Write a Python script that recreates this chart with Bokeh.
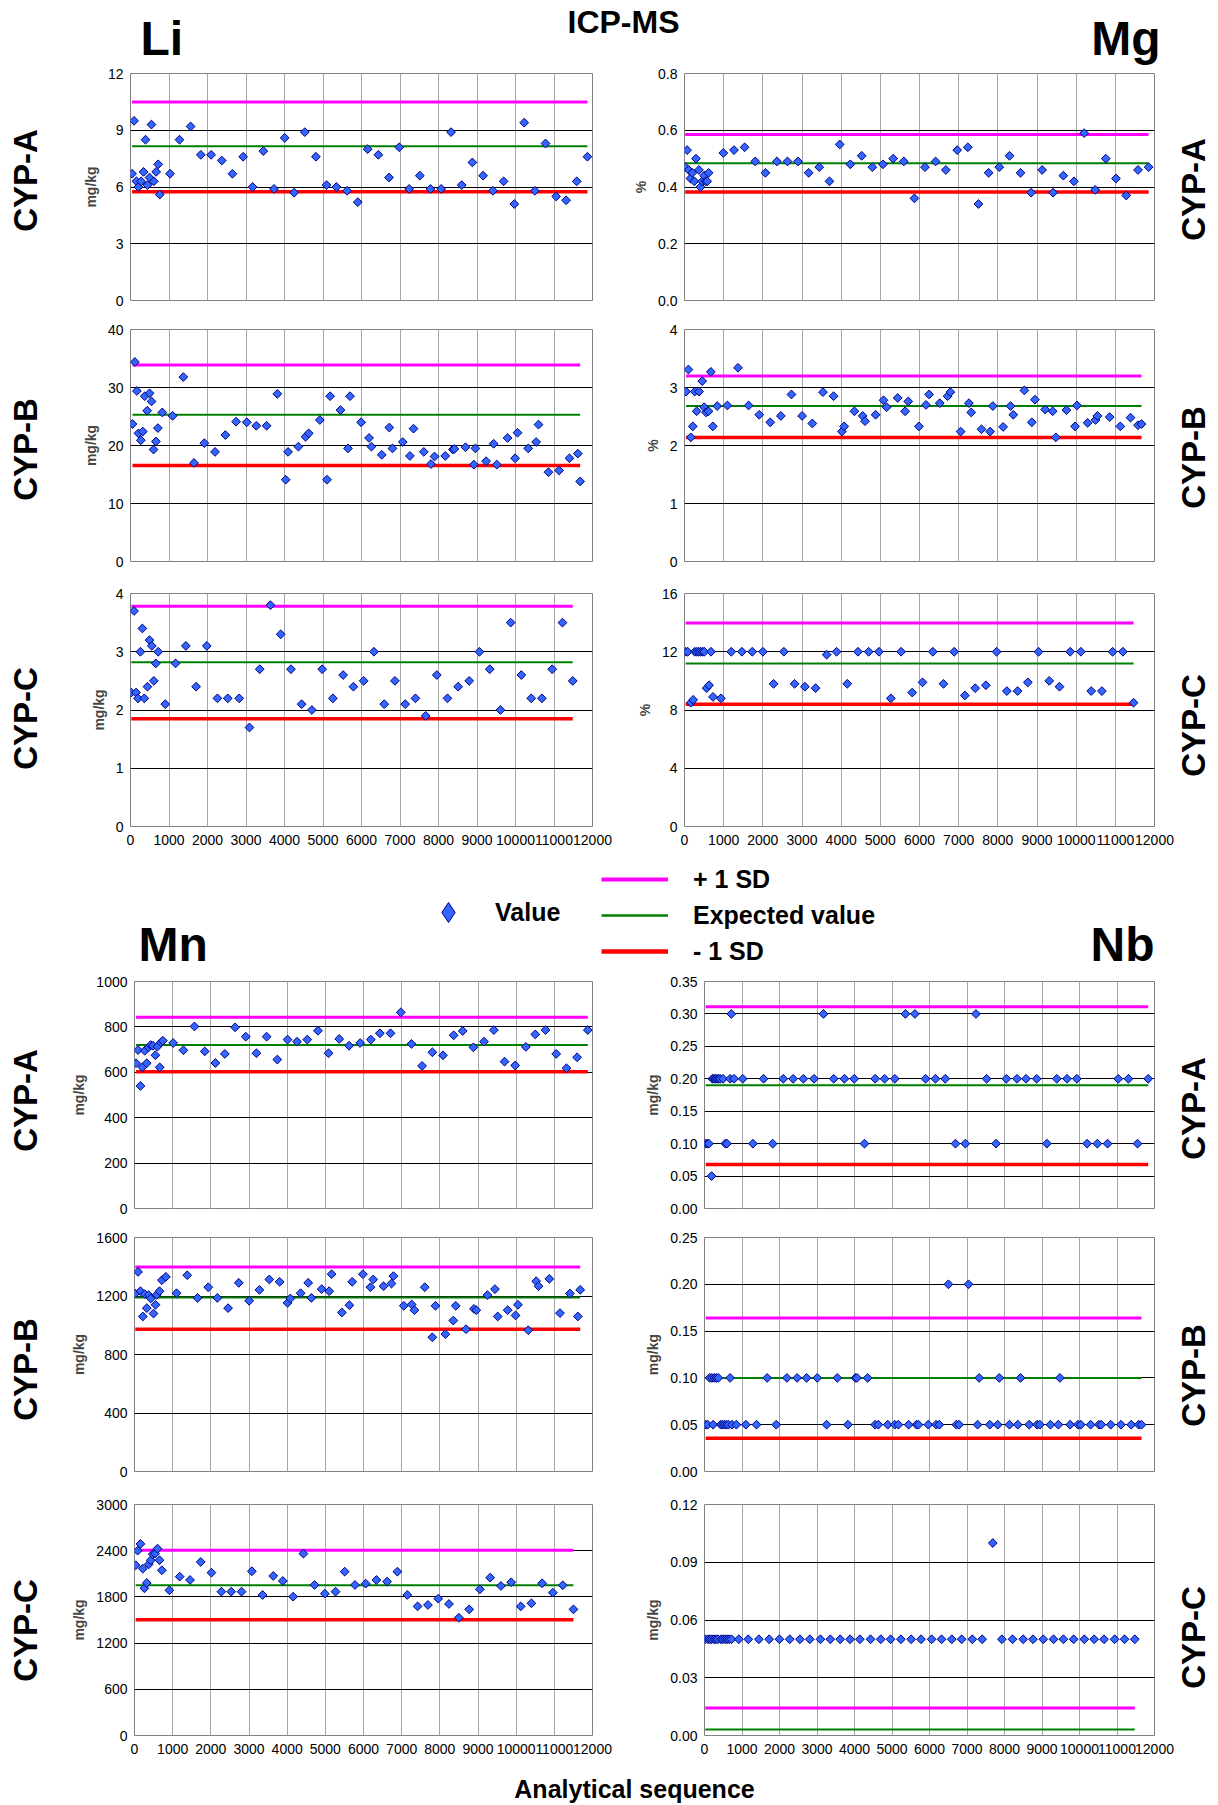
import numpy as np
from bokeh.plotting import figure
from bokeh.models import (FixedTicker, NumeralTickFormatter, Label, Legend,
                          LegendItem, Range1d)
from bokeh.layouts import column, row
from bokeh.embed import file_html
from bokeh.resources import INLINE

FONT = "Liberation Sans"
BLUE = "#3366FF"
NAVY = "#000080"
SD_LABELS = ["+ 1 SD", "Expected value", "- 1 SD"]
SD_COLORS = ["#FF00FF", "#008000", "#FF0000"]
SD_WIDTHS = [3, 2, 3.5]
ROW_NAMES = ["CYP-A", "CYP-B", "CYP-C"]
X_TICKS = list(range(0, 12001, 1000))

# ---------------- Li ----------------
LI_A_X = [41, 92, 154, 205, 277, 339, 390, 441, 493, 544, 606, 667, 719, 760, 1027, 1273, 1561, 1827, 2094,
          2371, 2648, 2926, 3172, 3450, 3727, 4004, 4251, 4528, 4815, 5092, 5349, 5626, 5903, 6160, 6437,
          6714, 6981, 7238, 7515, 7792, 8069, 8326, 8603, 8880, 9158, 9414, 9692, 9969, 10226, 10503,
          10780, 11057, 11314, 11591, 11868]
LI_A_Y = [6.7, 9.5, 6.3, 6.0, 6.3, 6.8, 8.5, 6.1, 6.5, 9.3, 6.3, 6.8, 7.2, 5.6, 6.7, 8.5, 9.2, 7.7, 7.7, 7.4,
          6.7, 7.6, 6.0, 7.9, 5.9, 8.6, 5.7, 8.9, 7.6, 6.1, 6.0, 5.8, 5.2, 8.0, 7.7, 6.5, 8.1, 5.9, 6.6,
          5.9, 5.9, 8.9, 6.1, 7.3, 6.6, 5.8, 6.3, 5.1, 9.4, 5.8, 8.3, 5.5, 5.3, 6.3, 7.6]
LI_A_SD = [10.5, 8.15, 5.75]
LI_A_TICKS = [0, 3, 6, 9, 12]

LI_B_X = [52, 113, 165, 206, 268, 320, 371, 433, 495, 546, 598, 660, 711, 825, 1093, 1371, 1649, 1918, 2196,
          2464, 2742, 3020, 3268, 3536, 3814, 4031, 4093, 4361, 4546, 4629, 4918, 5103, 5186, 5454, 5649,
          5701, 5990, 6196, 6258, 6526, 6722, 6804, 7072, 7258, 7351, 7619, 7804, 7897, 8175, 8371, 8412,
          8701, 8918, 8959, 9237, 9433, 9515, 9794, 9990, 10052, 10330, 10536, 10598, 10856, 11134, 11402,
          11619, 11680]
LI_B_Y = [23.7, 34.4, 29.4, 22.1, 20.9, 22.4, 28.5, 26.0, 29.0, 27.6, 19.3, 20.7, 23.0, 25.7, 25.1, 31.8,
          17.0, 20.4, 18.9, 21.8, 24.1, 24.0, 23.4, 23.4, 28.9, 14.1, 18.9, 19.8, 21.5, 22.1, 24.4, 14.1,
          28.5, 26.1, 19.5, 28.5, 24.0, 21.3, 19.8, 18.4, 23.1, 19.5, 20.6, 18.2, 22.9, 18.9, 16.8, 18.1,
          18.2, 19.3, 19.4, 19.7, 16.7, 19.5, 17.3, 20.3, 16.7, 21.3, 17.8, 22.2, 19.5, 20.6, 23.6, 15.4,
          15.7, 17.8, 18.6, 13.8]
LI_B_SD = [33.9, 25.3, 16.55]
LI_B_TICKS = [0, 10, 20, 30, 40]

LI_C_X = [21, 92, 144, 195, 257, 308, 359, 441, 493, 554, 606, 657, 719, 903, 1170, 1437, 1704, 1981, 2258,
          2525, 2823, 3090, 3357, 3634, 3901, 4168, 4445, 4712, 4979, 5256, 5523, 5790, 6057, 6324, 6591,
          6868, 7135, 7401, 7668, 7956, 8233, 8510, 8797, 9064, 9331, 9608, 9875, 10152, 10409, 10686,
          10953, 11220, 11487]
LI_C_Y = [2.3, 3.7, 2.3, 2.2, 3.0, 3.4, 2.2, 2.4, 3.2, 3.1, 2.5, 2.8, 3.0, 2.1, 2.8, 3.1, 2.4, 3.1, 2.2, 2.2,
          2.2, 1.7, 2.7, 3.8, 3.3, 2.7, 2.1, 2.0, 2.7, 2.2, 2.6, 2.4, 2.5, 3.0, 2.1, 2.5, 2.1, 2.2, 1.9,
          2.6, 2.2, 2.4, 2.5, 3.0, 2.7, 2.0, 3.5, 2.6, 2.2, 2.2, 2.7, 3.5, 2.5]
LI_C_SD = [3.78, 2.82, 1.85]
LI_C_TICKS = [0, 1, 2, 3, 4]

# ---------------- Mg ----------------
MG_A_X = [17, 67, 109, 151, 201, 251, 293, 368, 408, 452, 502, 540, 581, 615, 991, 1264, 1535, 1806, 2067,
          2358, 2629, 2899, 3170, 3441, 3702, 3963, 4234, 4525, 4796, 5067, 5328, 5599, 5870, 6140, 6411,
          6672, 6963, 7234, 7505, 7766, 8037, 8298, 8579, 8850, 9131, 9411, 9672, 9943, 10204, 10485,
          10756, 11017, 11278, 11579, 11850]
MG_A_Y = [0.47, 0.53, 0.46, 0.43, 0.45, 0.42, 0.50, 0.46, 0.40, 0.42, 0.44, 0.42, 0.42, 0.45, 0.52, 0.53,
          0.54, 0.49, 0.45, 0.49, 0.49, 0.49, 0.45, 0.47, 0.42, 0.55, 0.48, 0.51, 0.47, 0.48, 0.50, 0.49,
          0.36, 0.47, 0.49, 0.46, 0.53, 0.54, 0.34, 0.45, 0.47, 0.51, 0.45, 0.38, 0.46, 0.38, 0.44, 0.42,
          0.59, 0.39, 0.50, 0.43, 0.37, 0.46, 0.47]
MG_A_SD = [0.585, 0.484, 0.382]
MG_A_TICKS = [0, 0.2, 0.4, 0.6, 0.8]

MG_B_X = [40, 100, 161, 211, 261, 311, 372, 452, 502, 552, 613, 673, 723, 834, 1095, 1366, 1637, 1908, 2189,
          2460, 2731, 3003, 3264, 3535, 3806, 4017, 4077, 4338, 4549, 4609, 4880, 5081, 5162, 5443, 5633,
          5713, 5985, 6166, 6246, 6517, 6718, 6788, 7050, 7261, 7321, 7582, 7803, 7873, 8135, 8325, 8395,
          8677, 8867, 8948, 9209, 9400, 9480, 9751, 9972, 10022, 10293, 10494, 10544, 10856, 11127, 11388,
          11579, 11669]
MG_B_Y = [2.93, 3.31, 2.14, 2.33, 2.93, 2.59, 2.93, 3.11, 2.66, 2.57, 2.59, 3.27, 2.33, 2.68, 2.69, 3.34,
          2.69, 2.53, 2.40, 2.51, 2.88, 2.51, 2.38, 2.92, 2.85, 2.24, 2.33, 2.59, 2.51, 2.42, 2.53, 2.78,
          2.66, 2.82, 2.59, 2.76, 2.33, 2.70, 2.88, 2.73, 2.85, 2.92, 2.24, 2.73, 2.57, 2.28, 2.24, 2.68,
          2.32, 2.68, 2.53, 2.95, 2.40, 2.79, 2.62, 2.59, 2.14, 2.61, 2.33, 2.69, 2.39, 2.44, 2.51, 2.49,
          2.33, 2.48, 2.35, 2.37]
MG_B_SD = [3.20, 2.68, 2.14]
MG_B_TICKS = [0, 1, 2, 3, 4]

MG_C_X = [30, 81, 162, 222, 263, 313, 364, 415, 465, 506, 566, 627, 677, 728, 930, 1193, 1466, 1729, 2002,
          2275, 2538, 2811, 3074, 3347, 3630, 3883, 4156, 4429, 4702, 4965, 5268, 5531, 5814, 6077, 6340,
          6613, 6886, 7159, 7422, 7695, 7968, 8231, 8504, 8766, 9039, 9312, 9575, 9848, 10121, 10384,
          10657, 10930, 11193, 11466]
MG_C_Y = [12, 12, 8.5, 8.7, 12, 12, 12, 12, 12, 12, 9.5, 9.7, 12, 8.9, 8.8, 12, 12, 12, 12, 9.8, 12, 9.8,
          9.6, 9.5, 11.8, 12, 9.8, 12, 12, 12, 8.8, 12, 9.2, 9.9, 12, 9.8, 12, 9.0, 9.5, 9.7, 12, 9.3, 9.3,
          9.9, 12, 10.0, 9.6, 12, 12, 9.3, 9.3, 12, 12, 8.5]
MG_C_SD = [13.97, 11.2, 8.39]
MG_C_TICKS = [0, 4, 8, 12, 16]

# ---------------- Mn ----------------
MN_A_X = [41, 93, 155, 207, 269, 320, 372, 424, 486, 548, 599, 661, 693, 744, 1013, 1282, 1571, 1840, 2119,
          2367, 2636, 2915, 3194, 3463, 3742, 4010, 4258, 4527, 4806, 5085, 5364, 5623, 5912, 6191, 6429,
          6708, 6977, 7256, 7535, 7804, 8083, 8362, 8600, 8879, 9158, 9416, 9695, 9974, 10253, 10501,
          10770, 11049, 11318, 11597, 11876]
MN_A_Y = [640, 698, 540, 622, 695, 640, 710, 720, 717, 675, 713, 622, 732, 739, 729, 697, 802, 692, 641, 681,
          798, 757, 684, 757, 656, 744, 735, 744, 783, 684, 747, 717, 729, 744, 772, 772, 864, 725, 628,
          688, 675, 763, 782, 710, 735, 786, 647, 630, 712, 767, 786, 681, 618, 666, 786]
MN_A_SD = [842, 720, 602]
MN_A_TICKS = [0, 200, 400, 600, 800, 1000]

MN_B_X = [21, 94, 156, 218, 270, 322, 374, 426, 499, 551, 582, 655, 717, 821, 1101, 1382, 1652, 1932, 2171,
          2452, 2732, 3003, 3273, 3532, 3803, 4010, 4083, 4353, 4551, 4634, 4904, 5101, 5164, 5434, 5631,
          5704, 5984, 6182, 6255, 6525, 6733, 6784, 7055, 7262, 7335, 7605, 7803, 7886, 8145, 8353, 8416,
          8686, 8894, 8956, 9247, 9444, 9517, 9777, 9984, 10047, 10317, 10525, 10587, 10868, 11148, 11408,
          11616, 11678]
MN_B_Y = [1217, 1365, 1233, 1060, 1213, 1117, 1206, 1183, 1080, 1140, 1208, 1233, 1308, 1331, 1219, 1342,
          1187, 1260, 1187, 1117, 1290, 1167, 1242, 1313, 1297, 1153, 1183, 1219, 1290, 1187, 1247, 1233,
          1349, 1087, 1137, 1297, 1349, 1260, 1313, 1267, 1285, 1336, 1133, 1142, 1103, 1260, 918, 1133,
          939, 1032, 1133, 973, 1112, 1103, 1206, 1247, 1060, 1103, 1067, 1140, 966, 1301, 1267, 1317,
          1083, 1217, 1060, 1242]
MN_B_SD = [1399, 1190, 973]
MN_B_TICKS = [0, 400, 800, 1200, 1600]

MN_C_X = [31, 83, 156, 218, 260, 322, 374, 426, 478, 540, 603, 655, 717, 914, 1184, 1455, 1735, 2016, 2276,
          2535, 2805, 3075, 3356, 3636, 3886, 4156, 4426, 4717, 4987, 5268, 5507, 5777, 6057, 6338, 6618,
          6888, 7148, 7418, 7688, 7958, 8239, 8499, 8769, 9049, 9319, 9600, 9870, 10119, 10400, 10681,
          10961, 11221, 11501]
MN_C_Y = [2211, 2401, 2488, 2167, 1912, 1981, 2224, 2276, 2354, 2362, 2427, 2276, 2146, 1886, 2063, 2020,
          2254, 2115, 1868, 1868, 1868, 2133, 1825, 2072, 2007, 1803, 2362, 1955, 1842, 1868, 2128, 1955,
          1972, 2020, 1998, 2128, 1825, 1677, 1695, 1777, 1708, 1530, 1638, 1899, 2050, 1942, 1990, 1677,
          1717, 1977, 1855, 1951, 1638]
MN_C_SD = [2406, 1951, 1504]
MN_C_TICKS = [0, 600, 1200, 1800, 2400, 3000]

# ---------------- Nb ----------------
NB_A_X = [32, 74, 116, 189, 210, 252, 294, 336, 378, 420, 494, 557, 599, 683, 714, 788, 1019, 1292, 1576,
          1818, 2101, 2364, 2637, 2921, 3173, 3446, 3730, 3993, 4266, 4550, 4802, 5075, 5358, 5611, 5895,
          6158, 6420, 6693, 6956, 7239, 7523, 7775, 8049, 8333, 8574, 8858, 9131, 9394, 9667, 9930, 10203,
          10476, 10749, 11033, 11306, 11547, 11832]
NB_A_Y = [0.1, 0.1, 0.1, 0.05, 0.2, 0.2, 0.2, 0.2, 0.2, 0.2, 0.2, 0.1, 0.1, 0.2, 0.3, 0.2, 0.2, 0.1, 0.2,
          0.1, 0.2, 0.2, 0.2, 0.2, 0.3, 0.2, 0.2, 0.2, 0.1, 0.2, 0.2, 0.2, 0.3, 0.3, 0.2, 0.2, 0.2, 0.1,
          0.1, 0.3, 0.2, 0.1, 0.2, 0.2, 0.2, 0.2, 0.1, 0.2, 0.2, 0.2, 0.1, 0.1, 0.1, 0.2, 0.2, 0.1, 0.2]
NB_A_SD = [0.311, 0.19, 0.068]
NB_A_TICKS = [0, 0.05, 0.10, 0.15, 0.20, 0.25, 0.30, 0.35]

NB_B_X = [32, 84, 137, 200, 231, 263, 315, 368, 431, 483, 536, 588, 641, 683, 735, 851, 1103, 1387, 1671,
          1912, 2197, 2470, 2722, 3006, 3257, 3541, 3825, 4025, 4067, 4351, 4550, 4634, 4886, 5075, 5170,
          5443, 5653, 5706, 5968, 6178, 6262, 6504, 6715, 6788, 7040, 7282, 7324, 7608, 7818, 7860, 8134,
          8354, 8427, 8659, 8869, 8942, 9226, 9436, 9478, 9751, 9961, 10035, 10297, 10518, 10581, 10833,
          11106, 11379, 11579, 11653]
NB_B_Y = [0.05, 0.05, 0.1, 0.1, 0.05, 0.1, 0.1, 0.1, 0.05, 0.05, 0.05, 0.05, 0.05, 0.1, 0.05, 0.05, 0.05,
          0.05, 0.1, 0.05, 0.1, 0.1, 0.1, 0.1, 0.05, 0.1, 0.05, 0.1, 0.1, 0.1, 0.05, 0.05, 0.05, 0.05,
          0.05, 0.05, 0.05, 0.05, 0.05, 0.05, 0.05, 0.2, 0.05, 0.05, 0.2, 0.05, 0.1, 0.05, 0.05, 0.1, 0.05,
          0.05, 0.1, 0.05, 0.05, 0.05, 0.05, 0.05, 0.1, 0.05, 0.05, 0.05, 0.05, 0.05, 0.05, 0.05, 0.05,
          0.05, 0.05, 0.05]
NB_B_SD = [0.164, 0.1, 0.0354]
NB_B_TICKS = [0, 0.05, 0.10, 0.15, 0.20, 0.25]

NB_C_X = [21, 92, 144, 195, 257, 308, 359, 441, 493, 554, 606, 657, 719, 915, 1167, 1451, 1725, 1998, 2272,
          2545, 2808, 3092, 3355, 3618, 3881, 4144, 4428, 4701, 4964, 5237, 5511, 5774, 6058, 6321, 6594,
          6857, 7141, 7404, 7688, 7930, 8214, 8498, 8761, 9034, 9308, 9571, 9844, 10128, 10391, 10654,
          10938, 11201, 11474]
NB_C_Y = [0.05, 0.05, 0.05, 0.05, 0.05, 0.05, 0.05, 0.05, 0.05, 0.05, 0.05, 0.05, 0.05, 0.05, 0.05, 0.05,
          0.05, 0.05, 0.05, 0.05, 0.05, 0.05, 0.05, 0.05, 0.05, 0.05, 0.05, 0.05, 0.05, 0.05, 0.05, 0.05,
          0.05, 0.05, 0.05, 0.05, 0.05, 0.05, 0.1, 0.05, 0.05, 0.05, 0.05, 0.05, 0.05, 0.05, 0.05, 0.05,
          0.05, 0.05, 0.05, 0.05, 0.05]
NB_C_SD = [0.0143, 0.0031, -0.008]
NB_C_TICKS = [0, 0.03, 0.06, 0.09, 0.12]


def make_panel(x, y, sd, ticks, fmt, unit, w, h, bl, br, bt, bb, show_x):
    p = figure(width=w, height=h, x_range=Range1d(0, 12000), y_range=Range1d(ticks[0], ticks[-1]),
               output_backend="svg", toolbar_location=None,
               min_border_left=bl, min_border_right=br, min_border_top=bt, min_border_bottom=bb)
    p.outline_line_color = "#808080"
    p.outline_line_width = 1
    p.xgrid.ticker = FixedTicker(ticks=X_TICKS[1:-1])
    p.xgrid.grid_line_color = "#a6a6a6"
    p.ygrid.ticker = FixedTicker(ticks=ticks[1:-1])
    p.ygrid.grid_line_color = "#000000"

    yax = p.yaxis[0]
    yax.ticker = FixedTicker(ticks=ticks)
    yax.formatter = NumeralTickFormatter(format=fmt)
    yax.axis_line_color = None
    yax.major_tick_line_color = None
    yax.minor_tick_line_color = None
    yax.major_tick_out = 0
    yax.major_tick_in = 0
    yax.major_label_standoff = 7
    yax.major_label_text_font = FONT
    yax.major_label_text_font_size = "14px"
    yax.major_label_text_color = "#000000"
    yax.axis_label = unit
    yax.axis_label_text_font = FONT
    yax.axis_label_text_font_style = "bold"
    yax.axis_label_text_font_size = "14px"
    yax.axis_label_standoff = 6

    xax = p.xaxis[0]
    if show_x:
        xax.ticker = FixedTicker(ticks=X_TICKS)
        xax.axis_line_color = None
        xax.major_tick_line_color = None
        xax.minor_tick_line_color = None
        xax.major_tick_out = 0
        xax.major_tick_in = 0
        xax.major_label_standoff = 8
        xax.major_label_text_font = FONT
        xax.major_label_text_font_size = "14px"
        xax.major_label_text_color = "#000000"
    else:
        xax.visible = False

    lo, hi = min(x), max(x)
    for v, c, lw in zip(sd, SD_COLORS, SD_WIDTHS):
        p.line([lo, hi], [v, v], line_color=c, line_width=lw)
    p.scatter(x, y, marker="square", angle=np.pi / 4, size=6.2,
              fill_color=BLUE, line_color=NAVY, line_width=1)
    return p


def blank(w, h):
    p = figure(width=w, height=h, x_range=Range1d(0, w), y_range=Range1d(0, h),
               output_backend="svg", toolbar_location=None, x_axis_type=None, y_axis_type=None,
               min_border=0)
    p.outline_line_color = None
    return p


def big_label(p, text, x, y, size, align, angle=0.0):
    p.add_layout(Label(x=x, y=y, x_units="screen", y_units="screen", text=text, angle=angle,
                       text_align=align, text_baseline="middle", text_font=FONT,
                       text_font_style="bold", text_font_size=size, text_color="#000000"))


# ---- geometry (page px; the page has no body margin) ----
MAIN_X0 = 48
LEFT_W, RIGHT_W = 582, 546
TOP_ROWS = [(66, 73, 300, 315), (315, 329, 561, 577), (577, 593, 826, 862)]
BOT_ROWS = [(972, 981, 1208, 1222), (1222, 1237, 1471, 1488), (1488, 1504, 1735, 1764)]
PAGE_H = 1804


def build_column(datasets, rows, col_x0, frame_left, frame_right, col_w, fmt, unit):
    figs = []
    for i, ((x, y, sd, ticks), (top, ftop, fbot, bot)) in enumerate(zip(datasets, rows)):
        bl = frame_left - col_x0
        br = col_x0 + col_w - frame_right
        f = fmt[i] if isinstance(fmt, list) else fmt
        figs.append(make_panel(x, y, sd, ticks, f, unit, col_w, bot - top, bl, br,
                               ftop - top, bot - fbot, i == 2))
    return column(*figs, spacing=0)


li_col = build_column([(LI_A_X, LI_A_Y, LI_A_SD, LI_A_TICKS), (LI_B_X, LI_B_Y, LI_B_SD, LI_B_TICKS),
                       (LI_C_X, LI_C_Y, LI_C_SD, LI_C_TICKS)], TOP_ROWS, MAIN_X0, 130, 592, LEFT_W,
                      "0", "mg/kg")
mg_col = build_column([(MG_A_X, MG_A_Y, MG_A_SD, MG_A_TICKS), (MG_B_X, MG_B_Y, MG_B_SD, MG_B_TICKS),
                       (MG_C_X, MG_C_Y, MG_C_SD, MG_C_TICKS)], TOP_ROWS, MAIN_X0 + LEFT_W, 683, 1154,
                      RIGHT_W, ["0.0", "0", "0"], "%")
mn_col = build_column([(MN_A_X, MN_A_Y, MN_A_SD, MN_A_TICKS), (MN_B_X, MN_B_Y, MN_B_SD, MN_B_TICKS),
                       (MN_C_X, MN_C_Y, MN_C_SD, MN_C_TICKS)], BOT_ROWS, MAIN_X0, 134, 592, LEFT_W,
                      "0", "mg/kg")
nb_col = build_column([(NB_A_X, NB_A_Y, NB_A_SD, NB_A_TICKS), (NB_B_X, NB_B_Y, NB_B_SD, NB_B_TICKS),
                       (NB_C_X, NB_C_Y, NB_C_SD, NB_C_TICKS)], BOT_ROWS, MAIN_X0 + LEFT_W, 704, 1154,
                      RIGHT_W, "0.00", "mg/kg")
MAIN_W = LEFT_W + RIGHT_W

# ---- header with main title and element names ----
H1_TOP, H1_BOT = 0, 66
h1 = blank(MAIN_W, H1_BOT - H1_TOP)
big_label(h1, "ICP-MS", 623 - MAIN_X0, H1_BOT - 21, "32px", "center")
big_label(h1, "Li", 140 - MAIN_X0, H1_BOT - 38, "48px", "left")
big_label(h1, "Mg", 1160 - MAIN_X0, H1_BOT - 38, "48px", "right")

# ---- middle header with legend and element names ----
H2_TOP, H2_BOT = 862, 972
h2 = blank(MAIN_W, H2_BOT - H2_TOP)
big_label(h2, "Mn", 138 - MAIN_X0, H2_BOT - 944, "48px", "left")
big_label(h2, "Nb", 1154 - MAIN_X0, H2_BOT - 944, "48px", "right")

r_val = h2.scatter(x=[np.nan], y=[np.nan], marker="diamond", fill_color=BLUE, line_color=NAVY,
                   line_width=1)
leg_val = Legend(items=[LegendItem(label="Value", renderers=[r_val])],
                 location=(448 - 25 - MAIN_X0, H2_BOT - 912 - 25), orientation="vertical",
                 glyph_width=50, glyph_height=50, label_height=30, label_standoff=22,
                 padding=0, margin=0, spacing=0, border_line_alpha=0, background_fill_alpha=0,
                 label_text_font=FONT, label_text_font_style="bold", label_text_font_size="25px",
                 label_text_color="#000000")
h2.add_layout(leg_val)

sd_items = []
for lab, c, lw in zip(SD_LABELS, SD_COLORS, [4, 2.7, 4.5]):
    r = h2.line(x=[np.nan, np.nan], y=[np.nan, np.nan], line_color=c, line_width=lw)
    sd_items.append(LegendItem(label=lab, renderers=[r]))
leg_sd = Legend(items=sd_items, location=(601 - MAIN_X0, H2_BOT - 966), orientation="vertical",
                glyph_width=67, glyph_height=30, label_height=30, label_standoff=25, spacing=6,
                padding=0, margin=0, border_line_alpha=0, background_fill_alpha=0,
                label_text_font=FONT, label_text_font_style="bold", label_text_font_size="25px",
                label_text_color="#000000")
h2.add_layout(leg_sd)

# ---- footer with x-axis title ----
F_TOP, F_BOT = 1764, PAGE_H
foot = blank(MAIN_W, F_BOT - F_TOP)
big_label(foot, "Analytical sequence", 634 - MAIN_X0, F_BOT - 1788, "25px", "center")

# ---- side strips with the material names ----
left_strip = blank(MAIN_X0, PAGE_H)
for name, yc in zip(ROW_NAMES * 2, [180, 449, 718, 1100, 1369, 1630]):
    big_label(left_strip, name, 25, PAGE_H - yc, "33px", "center", np.pi / 2)
RIGHT_X0 = MAIN_X0 + MAIN_W
right_strip = blank(1218 - RIGHT_X0, PAGE_H)
for name, yc in zip(ROW_NAMES * 2, [189, 457, 725, 1108, 1375, 1637]):
    big_label(right_strip, name, 1193 - RIGHT_X0, PAGE_H - yc, "33px", "center", np.pi / 2)

main = column(h1, row(li_col, mg_col, spacing=0), h2, row(mn_col, nb_col, spacing=0), foot, spacing=0)
layout = row(left_strip, main, right_strip, spacing=0)

open("out.html", "w").write(file_html(layout, INLINE, title="ICP-MS"))
